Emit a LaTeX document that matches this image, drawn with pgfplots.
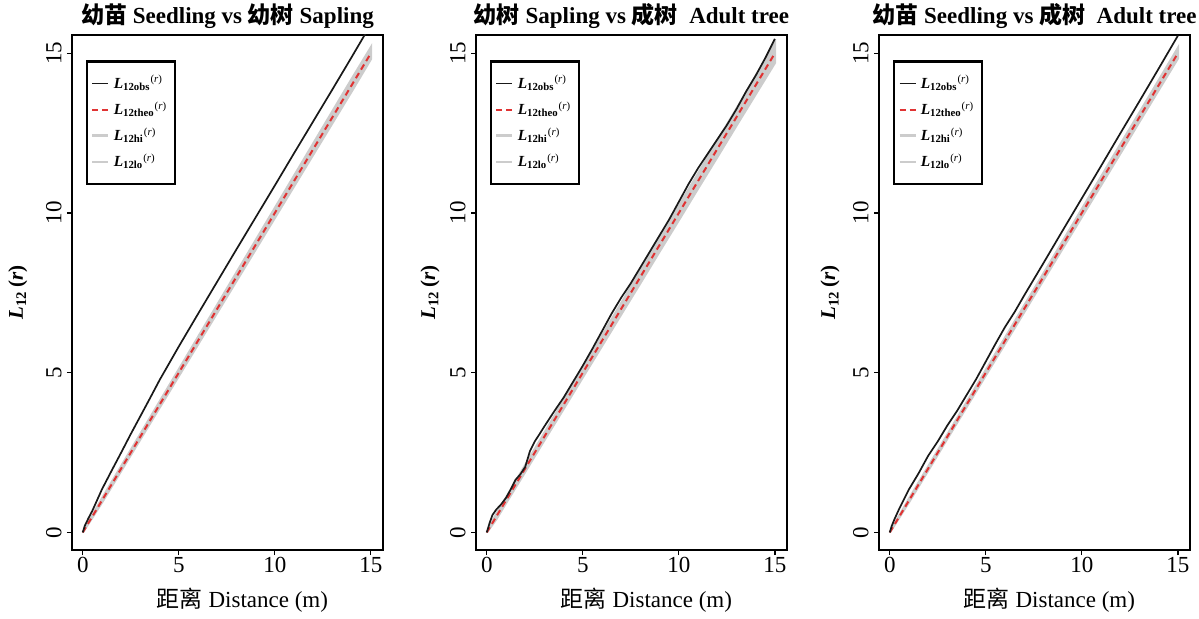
\documentclass[border=0pt]{standalone}
\usepackage{fontspec}
\setmainfont{Liberation Serif}
\newfontfamily\cjk{Noto Sans CJK SC}
\usepackage{pgfplots}
\pgfplotsset{compat=1.18}
\definecolor{theored}{rgb}{0.88,0.20,0.20}
\definecolor{envgray}{rgb}{0.80,0.80,0.80}
\newcommand{\Lent}[1]{\textbf{\textit{L}}\textsubscript{\textbf{12#1}}\textsuperscript{(\textit{r})}}
\pgfplotsset{
  panel/.style={
    scale only axis, width=155.5pt, height=257.5pt,
    xmin=-0.56, xmax=15.63, ymin=-0.55, ymax=15.57,
    xtick={0,5,10,15}, ytick={0,5,10,15},
    xtick pos=bottom, ytick pos=left,
    tick align=outside, major tick length=2.5pt,
    tick style={black, line width=0.6pt},
    axis line style={line width=1.2pt},
    /pgf/number format/assume math mode=true,
    ticklabel style={font=\fontsize{11.5}{13}\selectfont},
    yticklabel style={rotate=90, anchor=south, inner sep=2.5pt},
    xticklabel style={inner sep=1pt},
    xlabel={{\cjk 距离} Distance (m)},
    xlabel style={font=\fontsize{11.5}{13}\selectfont, at={(axis description cs:0.548,0)}, anchor=base, yshift=-28.5pt},
    ylabel={\textbf{\textit{L}}\textsubscript{\textbf{12}}\,\textbf{(\textit{r})}},
    ylabel style={font=\fontsize{10.5}{12}\selectfont, anchor=center},
    title style={font=\bfseries\fontsize{11.5}{13}\selectfont, at={(axis description cs:0.5,1)}, anchor=south, inner sep=0pt, text height=8pt, text depth=2.5pt, yshift=-3pt},
    legend style={at={(axis description cs:0.045,0.951)}, anchor=north west, draw=black, line width=1.2pt,
      font=\fontsize{7.7}{8.5}\selectfont, row sep=1pt, inner xsep=2pt, inner ysep=5pt, cells={anchor=west}},
    legend cell align=left,
    legend image code/.code={\draw[##1] (0pt,0pt) -- (8pt,0pt);},
  },
  obs/.style={black!90, line width=0.85pt},
  theo/.style={theored, line width=1pt, dash pattern=on 3pt off 2pt},
  env/.style={envgray, line width=1.3pt},
  band/.style={fill=envgray, draw=envgray, line width=1.2pt},
}
\begin{document}
\begin{tikzpicture}
% ---------- Panel 1 ----------
\begin{axis}[panel, at={(36pt,33.5pt)}, anchor=south west,
  title={{\cjk 幼苗} Seedling vs {\cjk 幼树} Sapling},
  ylabel style={at={(axis description cs:-0.174,0.5)}}]
\addlegendimage{obs}\addlegendentry{\Lent{obs}}
\addlegendimage{theo}\addlegendentry{\Lent{theo}}
\addlegendimage{env}\addlegendentry{\Lent{hi}}
\addlegendimage{env}\addlegendentry{\Lent{lo}}
% envelope: hi (0..15) then lo (15..0)
\addplot[band, forget plot] coordinates {(0,0) (1,1.06) (2,2.07) (3,3.08) (4,4.09) (5,5.10) (6,6.11) (7,7.12) (8,8.13) (9,9.14) (10,10.15) (11,11.16) (12,12.17) (13,13.18) (14,14.19) (15,15.18)
 (15,14.82) (14,13.81) (13,12.82) (12,11.83) (11,10.84) (10,9.85) (9,8.86) (8,7.87) (7,6.88) (6,5.89) (5,4.90) (4,3.91) (3,2.92) (2,1.93) (1,0.94) (0,0)};
\addplot[theo, forget plot] coordinates {(0,0) (15,15)};
\addplot[obs, forget plot] coordinates {(0,0) (0.1,0.2) (0.3,0.45) (0.5,0.68) (1,1.35) (1.5,1.93) (2,2.5) (2.5,3.08) (3,3.64) (3.5,4.2) (4,4.77) (5,5.82) (6,6.84) (7,7.85) (8,8.86) (9,9.86) (10,10.86) (11,11.87) (12,12.87) (13,13.87) (14,14.88) (14.8,15.7)};
\end{axis}
% ---------- Panel 2 ----------
\begin{axis}[panel, at={(238pt,33.5pt)}, anchor=south west,
  title={{\cjk 幼树} Sapling vs {\cjk 成树}\ \ Adult tree},
  ylabel style={at={(axis description cs:-0.148,0.5)}}]
\addlegendimage{obs}\addlegendentry{\Lent{obs}}
\addlegendimage{theo}\addlegendentry{\Lent{theo}}
\addlegendimage{env}\addlegendentry{\Lent{hi}}
\addlegendimage{env}\addlegendentry{\Lent{lo}}
\addplot[band, forget plot] coordinates {(0,0) (0.5,0.58) (1,1.08) (2,2.1) (3,3.11) (4,4.13) (5,5.14) (6,6.16) (7,7.17) (8,8.19) (9,9.2) (10,10.22) (11,11.23) (12,12.25) (13,13.26) (14,14.28) (15,15.3)
 (15,14.7) (14,13.72) (13,12.74) (12,11.75) (11,10.77) (10,9.78) (9,8.8) (8,7.81) (7,6.83) (6,5.84) (5,4.86) (4,3.87) (3,2.89) (2,1.9) (1,0.92) (0.5,0.42) (0,0)};
\addplot[theo, forget plot] coordinates {(0,0) (15,15)};
\addplot[obs, forget plot] coordinates {(0,0) (0.15,0.3) (0.3,0.55) (0.5,0.72) (0.75,0.88) (1,1.08) (1.25,1.35) (1.5,1.65) (1.75,1.82) (2,2.05) (2.25,2.55) (2.5,2.85) (2.75,3.08) (3,3.32) (3.5,3.78) (4,4.22) (4.5,4.72) (5,5.22) (5.5,5.75) (6,6.3) (6.5,6.85) (7,7.35) (7.5,7.8) (8,8.3) (8.5,8.8) (9,9.3) (9.5,9.8) (10,10.35) (10.5,10.9) (11,11.4) (11.5,11.85) (12,12.3) (12.5,12.75) (13,13.25) (13.5,13.8) (14,14.3) (14.5,14.85) (15,15.45)};
\end{axis}
% ---------- Panel 3 ----------
\begin{axis}[panel, at={(439.5pt,33.5pt)}, anchor=south west,
  title={{\cjk 幼苗} Seedling vs {\cjk 成树}\ \ Adult tree},
  ylabel style={at={(axis description cs:-0.157,0.5)}}]
\addlegendimage{obs}\addlegendentry{\Lent{obs}}
\addlegendimage{theo}\addlegendentry{\Lent{theo}}
\addlegendimage{env}\addlegendentry{\Lent{hi}}
\addlegendimage{env}\addlegendentry{\Lent{lo}}
\addplot[band, forget plot] coordinates {(0,0) (1,1.05) (2,2.06) (3,3.06) (4,4.07) (5,5.08) (6,6.09) (7,7.1) (8,8.1) (9,9.11) (10,10.12) (11,11.13) (12,12.14) (13,13.14) (14,14.15) (15,15.16)
 (15,14.84) (14,13.85) (13,12.86) (12,11.86) (11,10.87) (10,9.88) (9,8.89) (8,7.9) (7,6.9) (6,5.91) (5,4.92) (4,3.93) (3,2.94) (2,1.94) (1,0.95) (0,0)};
\addplot[theo, forget plot] coordinates {(0,0) (15,15)};
\addplot[obs, forget plot] coordinates {(0,0) (0.1,0.2) (0.25,0.42) (0.5,0.75) (1,1.35) (1.5,1.85) (2,2.4) (2.5,2.85) (3,3.35) (3.5,3.8) (4,4.3) (4.5,4.8) (5,5.35) (5.5,5.9) (6,6.43) (6.5,6.9) (7,7.42) (8,8.43) (9,9.45) (10,10.46) (11,11.47) (12,12.49) (13,13.5) (14,14.52) (15,15.55)};
\end{axis}
\path (0,0) (599.5pt,308.5pt);
\end{tikzpicture}
\end{document}
